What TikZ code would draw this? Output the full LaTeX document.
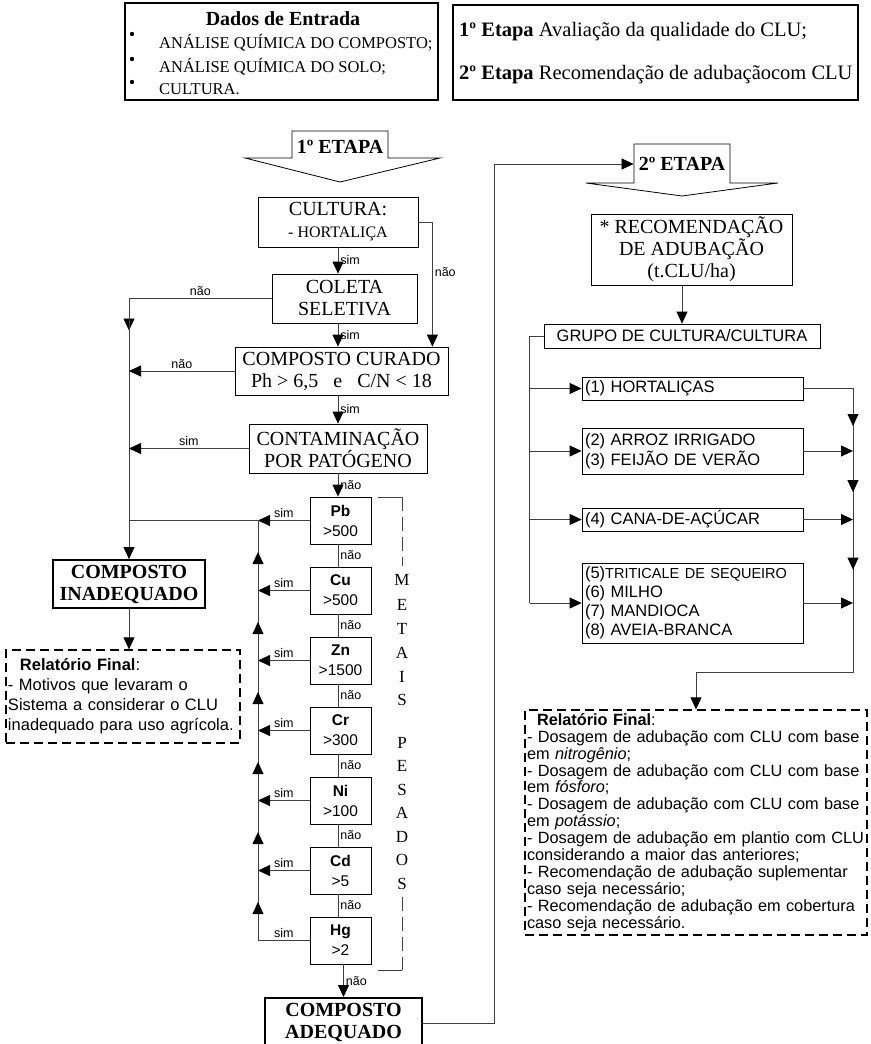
\documentclass[tikz,border=0pt]{standalone}
\usepackage{fontspec}
\setmainfont{Liberation Serif}
\setsansfont{Liberation Sans}
\usetikzlibrary{arrows.meta,calc}

\newcommand{\fcaixa}{\fontsize{20}{22}\selectfont}
\newcommand{\fmenor}{\fontsize{16}{18}\selectfont}
\newcommand{\fitem}{\fontsize{16.5}{18}\selectfont}
\newcommand{\fetapa}{\fontsize{20.5}{22}\selectfont}
\newcommand{\fletra}{\fontsize{17}{18}\selectfont}
\newcommand{\frot}{\sffamily\fontsize{12.5}{13}\selectfont}
\newcommand{\fmetal}{\sffamily\fontsize{15.5}{20}\selectfont}
\newcommand{\fsans}{\sffamily\fontsize{16.5}{19}\selectfont}
\newcommand{\frel}{\sffamily\fontsize{16.3}{16.9}\selectfont}

\tikzset{
  caixa/.style={draw, line width=0.8pt, inner sep=0pt, align=center, font=\fcaixa},
  forte/.style={draw, line width=1.8pt, inner sep=0pt, align=center, font=\fcaixa\bfseries},
  quadro/.style={draw, line width=1.5pt, inner sep=0pt},
  metal/.style={draw, line width=0.8pt, inner sep=0pt, minimum width=61pt, minimum height=47pt, align=center, font=\fmetal},
  cultbox/.style={draw, line width=0.8pt, inner xsep=3pt, inner ysep=0pt, text width=215pt, align=left, font=\fsans},
  relat/.style={draw, line width=1.3pt, dash pattern=on 9pt off 5pt, inner xsep=2pt, inner ysep=0pt, align=left},
  conn/.style={draw=black!75, line width=0.8pt},
  rot/.style={font=\frot, inner sep=2pt},
}

\begin{document}
\begin{tikzpicture}[x=1pt, y=-1pt, >={Triangle[length=12pt,width=11pt,color=black]}]
\useasboundingbox (0,0) rectangle (870,1044);

% quadros do topo
\node[quadro, minimum width=313pt, minimum height=97pt] (entrada) at (281.5,51.5) {};
\node[font=\fcaixa\bfseries] (titulo) at (283,19) {Dados de Entrada};
\fill (132,34) circle (2.2pt);
\fill (132,59) circle (2.2pt);
\fill (132,82) circle (2.2pt);
\node[anchor=west, font=\fitem, inner sep=0pt] (item1) at (159,43) {ANÁLISE QUÍMICA DO COMPOSTO;};
\node[anchor=west, font=\fitem, inner sep=0pt] (item2) at (159,67) {ANÁLISE QUÍMICA DO SOLO;};
\node[anchor=west, font=\fitem, inner sep=0pt] (item3) at (159,89) {CULTURA.};

\node[quadro, minimum width=405pt, minimum height=95pt] (etapas) at (655.5,52.5) {};
\node[anchor=west, font=\fetapa, inner sep=0pt] (et1) at (459,32) {\textbf{1º Etapa} Avaliação da qualidade do CLU;};
\node[anchor=west, font=\fetapa, inner sep=0pt] (et2) at (459,75) {\textbf{2º Etapa} Recomendação de adubaçãocom CLU};

% 1a etapa
\draw[line width=0.8pt] (292,158) -- (292,131) -- (388,131) -- (388,158) -- (440,158) -- (340,182) -- (245,158) -- cycle;
\node[font=\fcaixa\bfseries] (etapaA) at (340,147) {1º ETAPA};

\node[caixa, minimum width=160pt, minimum height=50pt] (cultura) at (338,222) {CULTURA:\\{\fmenor - HORTALIÇA}};
\node[caixa, minimum width=145pt, minimum height=49pt] (coleta) at (344.5,298.5) {COLETA\\SELETIVA};
\node[caixa, minimum width=213pt, minimum height=48pt] (curado) at (341.5,371) {COMPOSTO CURADO\\Ph > 6,5 \ \ e \ \ C/N < 18};
\node[caixa, minimum width=178pt, minimum height=49pt] (contam) at (338,448.5) {CONTAMINAÇÃO\\POR PATÓGENO};

\foreach \m/\v [count=\i from 0] in {Pb/500, Cu/500, Zn/1500, Cr/300, Ni/100, Cd/5, Hg/2}
  \node[metal] (\m) at (340.5,{520.5+70*\i}) {\textbf{\m}\\>\v};

\node[forte, minimum width=152pt, minimum height=48pt] (inadequado) at (129,584) {COMPOSTO\\INADEQUADO};
\node[relat, font=\fsans, text width=230pt, minimum height=93pt] (relat1) at (123,696.5)
  {\hspace*{12pt}\textbf{Relatório Final}:\\[1pt]- Motivos que levaram o\\[1pt]Sistema a considerar o CLU\\[1pt]inadequado para uso agrícola.};
\node[forte, minimum width=157pt, minimum height=50pt, anchor=north] (adequado) at (343.5,997) {COMPOSTO\\ADEQUADO};

% metais pesados
\foreach \l/\y [count=\i] in {M/580, E/605, T/629, A/653, I/677, S/700, P/743, E/766, S/790, A/813, D/837, O/860, S/884}
  \node[font=\fletra, inner sep=0pt] (letra\i) at (402,\y) {\l};
\draw[conn] (378,497) -- (402,497);
\draw[conn, dash pattern=on 14pt off 6pt] (402,497) -- (402,566);
\draw[conn, dash pattern=on 14pt off 6pt] (402,897) -- (402,970);
\draw[conn] (402,970) -- (378,970);

% 2a etapa
\draw[line width=0.8pt] (634,183) -- (634,144) -- (730,144) -- (730,183) -- (778,183) -- (682,196) -- (586,183) -- cycle;
\node[font=\fcaixa\bfseries, inner sep=5pt] (etapaB) at (682,164) {2º ETAPA};

\node[caixa, minimum width=201pt, minimum height=71pt] (recomend) at (691.5,249.5) {* RECOMENDAÇÃO\\DE ADUBAÇÃO\\(t.CLU/ha)};
\node[caixa, font=\fsans, minimum width=276pt, minimum height=24pt] (grupo) at (682,336) {GRUPO DE CULTURA/CULTURA};
\node[cultbox, minimum height=23pt] (cult1) at (692.5,388.5) {(1) HORTALIÇAS};
\node[cultbox, minimum height=46pt] (cult2) at (692.5,451) {(2) ARROZ IRRIGADO\\[1.5pt](3) FEIJÃO DE VERÃO};
\node[cultbox, minimum height=23pt] (cult3) at (692.5,519.5) {(4) CANA-DE-AÇÚCAR};
\node[cultbox, minimum height=80pt] (cult4) at (692.5,603) {(5){\fontsize{14.5}{19}\selectfont TRITICALE DE SEQUEIRO}\\(6) MILHO\\(7) MANDIOCA\\(8) AVEIA-BRANCA};

\node[relat, font=\frel, text width=338pt, minimum height=225pt] (relat2) at (696,822.5)
  {\hspace*{10pt}\textbf{Relatório Final}:\\
   - Dosagem de adubação com CLU com base\\em \textit{nitrogênio};\\
   - Dosagem de adubação com CLU com base\\em \textit{fósforo};\\
   - Dosagem de adubação com CLU com base\\em \textit{potássio};\\
   - Dosagem de adubação em plantio com CLU\\considerando a maior das anteriores;\\
   - Recomendação de adubação suplementar\\caso seja necessário;\\
   - Recomendação de adubação em cobertura\\caso seja necessário.};

% ligacoes da 1a etapa
\coordinate (eixo) at (338,0);
\coordinate (v) at (258,0);
\draw[conn,->] (cultura.south) -- (cultura.south |- coleta.north) node[rot, midway, right] {sim};
\draw[conn,->] (eixo |- coleta.south) -- (eixo |- curado.north) node[rot, midway, right] {sim};
\draw[conn,->] (eixo |- curado.south) -- (eixo |- contam.north) node[rot, midway, right] {sim};
\draw[conn,->] (eixo |- contam.south) -- (eixo |- Pb.north) node[rot, midway, right] {não};
\draw[conn,->] (cultura.east) -| ($(curado.north east)+(-16,0)$) node[rot, pos=0.7, right] {não};

\coordinate (j1) at (inadequado.north |- coleta.west);
\draw[conn] (coleta.west) -- (j1) node[rot, midway, above] {não};
\draw[conn,->] (j1) -- ++(0,32);
\draw[conn,->] (j1) -- (inadequado.north);
\draw[conn,->] (curado.west) -- (curado.west -| j1) node[rot, midway, above] {não};
\draw[conn,->] (contam.west) -- (contam.west -| j1) node[rot, midway, above] {sim};
\draw[conn] (Pb.west -| v) -- (Pb.west -| j1);
\draw[conn,->] (inadequado.south) -- (inadequado.south |- relat1.north);

\foreach \a/\b in {Pb/Cu, Cu/Zn, Zn/Cr, Cr/Ni, Ni/Cd, Cd/Hg}
  \draw[conn] (eixo |- \a.south) -- (eixo |- \b.north) node[rot, midway, right] {não};
\foreach \m in {Pb, Cu, Zn, Cr, Ni, Cd}
  \draw[conn,->] (\m.west) -- (\m.west -| v) node[rot, midway, above] {sim};
\draw[conn] (Hg.west) -- (Hg.west -| v) node[rot, midway, above] {sim};
\foreach \a/\b in {Cu/Pb, Zn/Cu, Cr/Zn, Ni/Cr, Cd/Ni, Hg/Cd} {
  \draw[conn] (\a.west -| v) -- (\b.west -| v);
  \draw[conn,->] (\a.west -| v) -- ($(\a.west -| v)!0.55!(\b.west -| v)$);
}
\draw[conn,->] (adequado.north |- Hg.south) -- (adequado.north) node[rot, midway, right] {não};

% ligacoes da 2a etapa
\draw[conn,->] (adequado.east) -- ++(71,0) |- (etapaB.west);
\draw[conn,->] (grupo.north |- recomend.south) -- (grupo.north);
\draw[conn] (grupo.west) -- ++(-14,0) coordinate (g1) -- (g1 |- cult4.west);
\foreach \c in {cult1, cult2, cult3, cult4}
  \draw[conn,->] (g1 |- \c.west) -- (\c.west);
\coordinate (rb) at (853,672);
\draw[conn,->] (cult1.east) -| (rb) -- (rb -| relat2.north) -- (relat2.north);
\foreach \c in {cult2, cult3, cult4}
  \draw[conn,->] (\c.east) -- (\c.east -| rb);
\foreach \a/\b in {cult1/cult2, cult2/cult3, cult3/cult4}
  \draw[conn,->] (\a.east -| rb) -- ($(\a.east -| rb)!0.6!(\b.east -| rb)$);
\end{tikzpicture}
\end{document}
